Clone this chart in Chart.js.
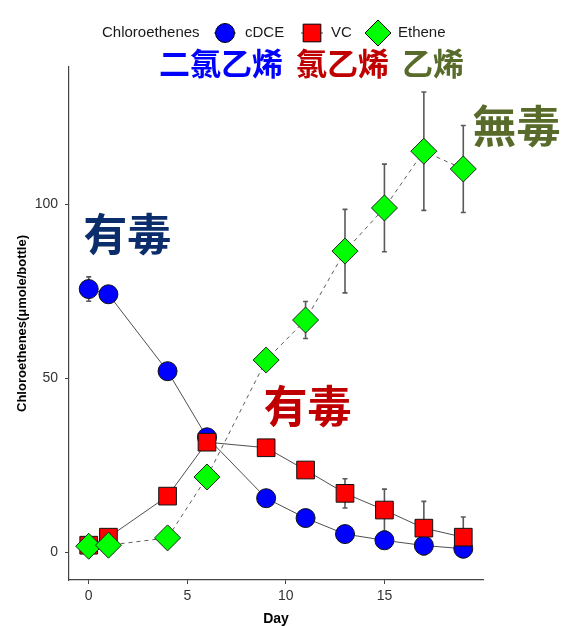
<!DOCTYPE html>
<html>
<head>
<meta charset="utf-8">
<script src="https://cdn.jsdelivr.net/npm/chart.js@4.4.1/dist/chart.umd.min.js"></script>
<style>
  html, body { margin: 0; padding: 0; background: #fff; }
  #wrap { width: 570px; height: 626px; position: relative; }
</style>
</head>
<body>
<div id="wrap"><canvas id="chart"></canvas></div>
<script>
// values
const days = [0, 1, 4, 6, 9, 11, 13, 15, 17, 19];
const cdce = [75.6, 74.1, 52.0, 33.0, 15.5, 9.8, 5.2, 3.4, 1.9, 1.0];
const cdceErr = [3.5, 0.5, 0.5, 0.5, 0.5, 0.5, 0.5, 0.5, 0.5, 0.5];
const vc = [2.0, 4.3, 16.1, 31.6, 30.0, 23.6, 16.9, 12.1, 6.9, 4.3];
const vcErr = [0.5, 0.5, 0.5, 0.5, 0.5, 1.0, 4.2, 6.0, 7.7, 5.8];
const ethene = [1.7, 2.0, 4.1, 21.6, 55.2, 66.7, 86.5, 98.9, 115.2, 110.1];
const etheneErr = [0.5, 0.5, 0.5, 0.5, 0.5, 5.3, 12.0, 12.6, 17.0, 12.5];
const xTicks = [0, 5, 10, 15];
const yTicks = [0, 50, 100];

const latin = '"Liberation Sans", Arial, sans-serif';
const cjk = '"Noto Sans CJK TC", "Noto Sans CJK SC", sans-serif';

const toPoints = (ys, errs) => ys.map((y, i) => ({ x: days[i], y, err: errs[i] }));

// error bars under the markers
const errorBars = {
  id: 'errorBars',
  beforeDatasetsDraw(chart) {
    const { ctx, scales: { x, y } } = chart;
    ctx.save();
    ctx.strokeStyle = '#5a5a5a';
    ctx.lineWidth = 1.6;
    chart.data.datasets.forEach(ds => {
      ds.data.forEach(p => {
        const px = x.getPixelForValue(p.x);
        const top = y.getPixelForValue(p.y + p.err);
        const bot = y.getPixelForValue(p.y - p.err);
        ctx.beginPath();
        ctx.moveTo(px, top); ctx.lineTo(px, bot);
        ctx.moveTo(px - 2.5, top); ctx.lineTo(px + 2.5, top);
        ctx.moveTo(px - 2.5, bot); ctx.lineTo(px + 2.5, bot);
        ctx.stroke();
      });
    });
    ctx.restore();
  }
};

// legend row, chinese names and the toxicity labels
const labels = {
  id: 'labels',
  afterDraw(chart) {
    const { ctx, scales: { x, y } } = chart;
    ctx.save();
    ctx.textBaseline = 'middle';
    ctx.textAlign = 'left';
    ctx.fillStyle = '#1a1a1a';
    ctx.font = '15px ' + latin;
    ctx.fillText('Chloroethenes', 102, 33);

    const ds = chart.data.datasets;
    const keys = [
      { cx: 225, tx: 245, d: ds[0] },
      { cx: 312, tx: 331, d: ds[1] },
      { cx: 378, tx: 398, d: ds[2] }
    ];
    keys.forEach(k => {
      ctx.strokeStyle = '#222';
      ctx.lineWidth = 0.8;
      ctx.setLineDash(k.d.borderDash || []);
      ctx.beginPath(); ctx.moveTo(k.cx - 11, 33); ctx.lineTo(k.cx + 11, 33); ctx.stroke();
      ctx.setLineDash([]);
      ctx.fillStyle = k.d.pointBackgroundColor;
      ctx.strokeStyle = '#000';
      ctx.lineWidth = 1;
      Chart.helpers.drawPoint(ctx, { pointStyle: k.d.pointStyle, radius: k.d.pointRadius, borderWidth: 1 }, k.cx, 33);
      ctx.fillStyle = '#1a1a1a';
      ctx.font = '15px ' + latin;
      ctx.fillText(k.d.label, k.tx, 33);
    });

    ctx.font = 'bold 31px ' + cjk;
    ctx.fillStyle = '#0000FF'; ctx.fillText('二氯乙烯', 159, 63);
    ctx.fillStyle = '#C00000'; ctx.fillText('氯乙烯', 296, 63);
    ctx.fillStyle = '#586B2A'; ctx.fillText('乙烯', 402, 63);

    ctx.textAlign = 'center';
    ctx.font = 'bold 44px ' + cjk;
    ctx.fillStyle = '#0C2D6B';
    ctx.fillText('有毒', x.getPixelForValue(1.95), y.getPixelForValue(91.4));
    ctx.fillStyle = '#C00000';
    ctx.fillText('有毒', x.getPixelForValue(11.1), y.getPixelForValue(42));
    ctx.fillStyle = '#586B2A';
    ctx.fillText('無毒', x.getPixelForValue(21.7), y.getPixelForValue(122.4));
    ctx.restore();
  }
};

new Chart(document.getElementById('chart'), {
  type: 'scatter',
  data: {
    datasets: [
      {
        label: 'cDCE',
        data: toPoints(cdce, cdceErr),
        showLine: true,
        borderColor: '#222',
        borderWidth: 0.8,
        pointStyle: 'circle',
        pointRadius: 9.5,
        pointBackgroundColor: '#0000FF',
        pointBorderColor: '#111',
        pointBorderWidth: 1,
        order: 3
      },
      {
        label: 'VC',
        data: toPoints(vc, vcErr),
        showLine: true,
        borderColor: '#222',
        borderWidth: 0.8,
        pointStyle: 'rect',
        pointRadius: 12.5,
        pointBackgroundColor: '#FF0000',
        pointBorderColor: '#111',
        pointBorderWidth: 1,
        order: 2
      },
      {
        label: 'Ethene',
        data: toPoints(ethene, etheneErr),
        showLine: true,
        borderColor: '#333',
        borderWidth: 0.8,
        borderDash: [4, 4],
        pointStyle: 'rectRot',
        pointRadius: 13,
        pointBackgroundColor: '#00FF00',
        pointBorderColor: '#222',
        pointBorderWidth: 1,
        order: 1
      }
    ]
  },
  options: {
    responsive: true,
    maintainAspectRatio: false,
    animation: false,
    clip: false,
    layout: { padding: { top: 67, right: 87, left: 0, bottom: 0 } },
    plugins: {
      legend: { display: false },
      tooltip: { enabled: false }
    },
    scales: {
      x: {
        type: 'linear',
        min: -1,
        max: 20,
        afterFit: s => { s.height = 46; },
        afterBuildTicks: s => { s.ticks = xTicks.map(v => ({ value: v })); },
        grid: { drawOnChartArea: false, drawTicks: true, tickLength: 4, color: '#444' },
        border: { display: true, color: '#444', width: 1.2 },
        ticks: { color: '#333', font: { family: latin, size: 14 }, padding: 4 },
        title: { display: true, text: 'Day', color: '#000', font: { family: latin, size: 14, weight: 'bold', lineHeight: 1 }, padding: 0 }
      },
      y: {
        type: 'linear',
        min: -8,
        max: 139.4,
        afterFit: s => { s.width = 69; },
        afterBuildTicks: s => { s.ticks = yTicks.map(v => ({ value: v })); },
        grid: { drawOnChartArea: false, drawTicks: true, tickLength: 4, color: '#444' },
        border: { display: true, color: '#444', width: 1.2 },
        ticks: { color: '#333', font: { family: latin, size: 14 }, padding: 7 },
        title: { display: true, text: 'Chloroethenes(μmole/bottle)', color: '#000', font: { family: latin, size: 13, weight: 'bold' }, padding: { top: 15 } }
      }
    }
  },
  plugins: [errorBars, labels]
});
</script>
</body>
</html>
